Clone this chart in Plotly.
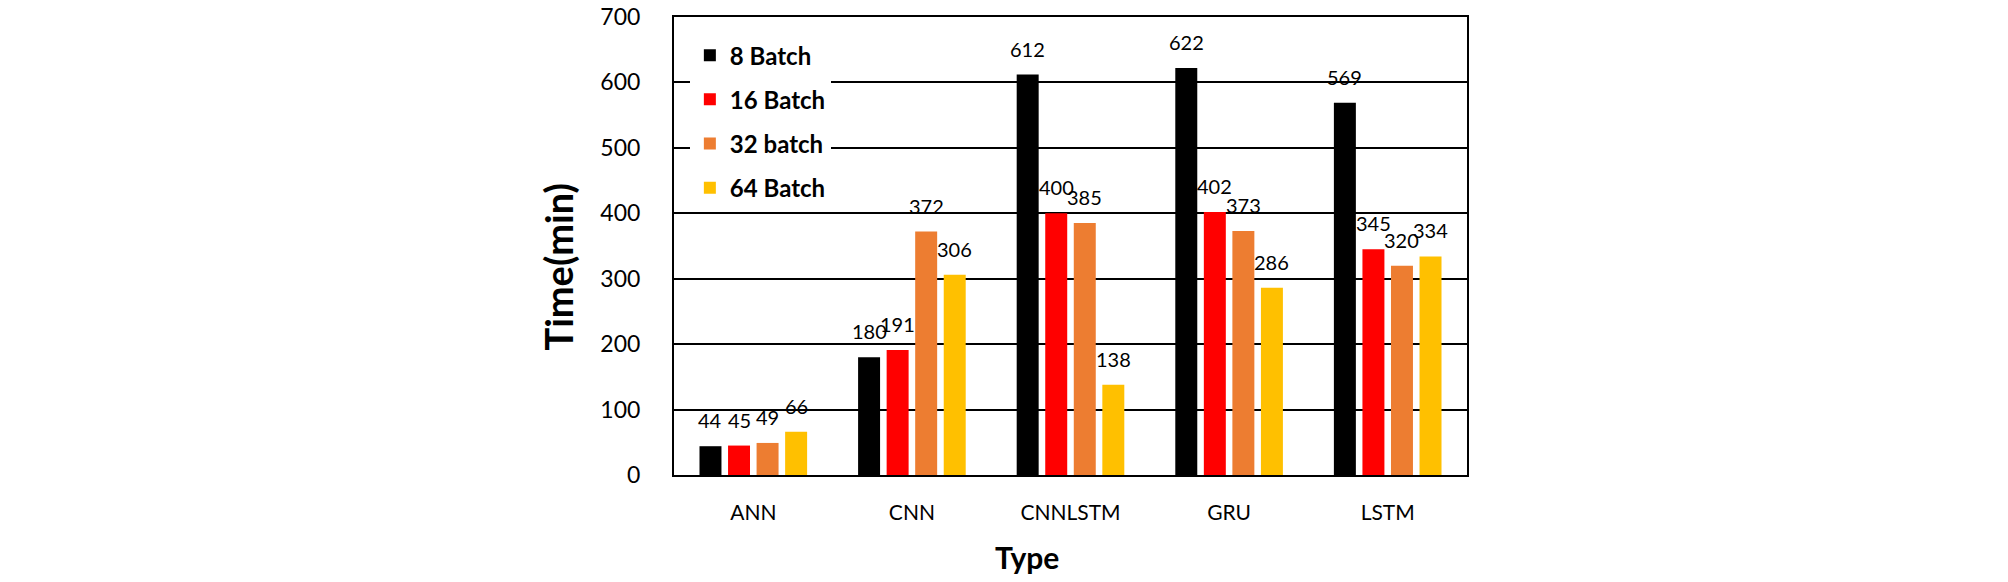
import plotly.graph_objects as go

categories = ["ANN", "CNN", "CNNLSTM", "GRU", "LSTM"]
series_names = ["8 Batch", "16 Batch", "32 batch", "64 Batch"]
batch8 = [44, 180, 612, 622, 569]
batch16 = [45, 191, 400, 402, 345]
batch32 = [49, 372, 385, 373, 320]
batch64 = [66, 306, 138, 286, 334]
colors = ["#000000", "#FF0000", "#ED7D31", "#FFC000"]
y_ticks = [0, 100, 200, 300, 400, 500, 600, 700]

series = [batch8, batch16, batch32, batch64]

W, H = 2008, 582
ML, MR, MT, MB = 674, 541, 17, 107
plot_w = W - ML - MR
BARGAP = 0.28
BARGROUPGAP = 0.23

fig = go.Figure()
for i, (name, vals, col) in enumerate(zip(series_names, series, colors)):
    fig.add_trace(go.Bar(
        x=categories, y=vals, name=name, marker_color=col,
        legendgroup=name, marker_line_width=0,
    ))

# data labels above bars
slot = plot_w / len(categories) * (1 - BARGAP) / len(series)
n = len(series)
for j, vals in enumerate(series):
    for c, v in zip(categories, vals):
        fig.add_annotation(
            x=c, y=v, xref="x", yref="y", text=str(v), showarrow=False,
            xanchor="center", yanchor="bottom",
            xshift=(j - (n - 1) / 2) * slot, yshift=12,
            font=dict(family="Lato", size=20, color="#000000"),
        )

fig.add_annotation(
    text="<b>Time(min)</b>", xref="paper", yref="paper",
    x=(557 - ML) / plot_w, y=(H - MB - 267.5) / (H - MT - MB),
    textangle=-90, showarrow=False, xanchor="center", yanchor="middle",
    font=dict(family="Lato", size=38, color="#000000"),
)
fig.add_annotation(
    text="<b>Type</b>", xref="paper", yref="paper",
    x=(1026.7 - ML) / plot_w, y=(H - MB - 556.7) / (H - MT - MB),
    showarrow=False, xanchor="center", yanchor="middle",
    font=dict(family="Lato", size=30, color="#000000"),
)

fig.update_layout(
    width=W, height=H,
    margin=dict(l=ML, r=MR, t=MT, b=MB, autoexpand=False),
    paper_bgcolor="white", plot_bgcolor="white",
    barmode="group", bargap=BARGAP, bargroupgap=BARGROUPGAP,
    font=dict(family="Lato", color="#000000"),
    legend=dict(
        x=0.02, y=0.965, xanchor="left", yanchor="top",
        bgcolor="white", borderwidth=0,
        font=dict(family="Lato", size=24, color="#000000", weight="bold"),
        tracegroupgap=10, traceorder="grouped",
    ),
    showlegend=True,
)
fig.update_xaxes(
    showline=True, linecolor="#000000", linewidth=2, mirror=True,
    showgrid=False, ticks="", tickfont=dict(family="Lato", size=21, color="#000000"),
    ticklabelstandoff=18,
)
fig.update_yaxes(
    range=[0, 700], tickvals=y_ticks,
    showline=True, linecolor="#000000", linewidth=2, mirror=True,
    showgrid=True, gridcolor="#000000", gridwidth=1.5, zeroline=False,
    ticks="", tickfont=dict(family="Lato", size=23, color="#000000"),
    ticklabelstandoff=27,
)

fig.write_html("out.html")
